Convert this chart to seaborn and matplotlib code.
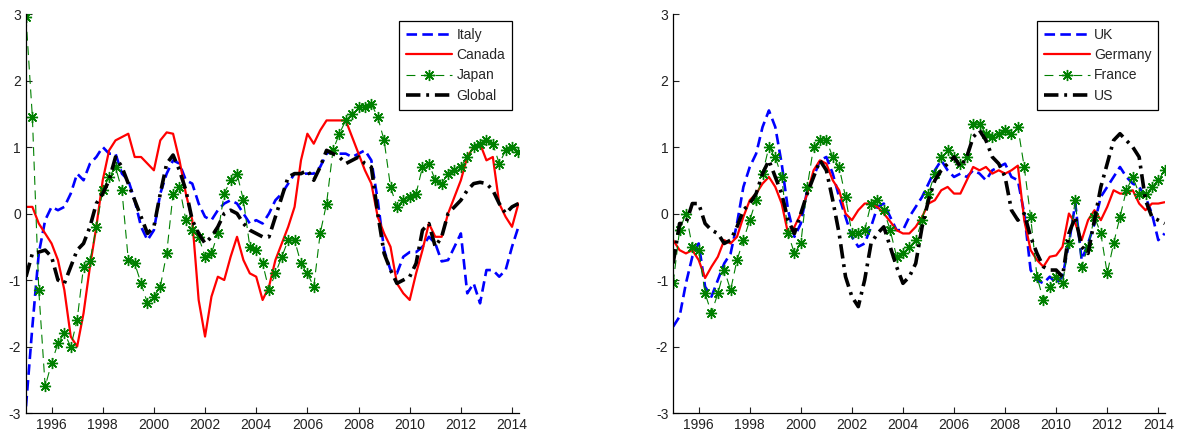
import numpy as np
import pandas as pd
import matplotlib
matplotlib.use("Agg")
import matplotlib.pyplot as plt
import seaborn as sns

# quarterly grid, 1995 Q1 .. 2014 Q2
years = np.arange(1995.0, 2014.3, 0.25)

italy = [-2.9, -1.7, -0.6, -0.1,
         0.1, 0.05, 0.1, 0.3,
         0.6, 0.5, 0.75, 0.85,
         1.0, 0.9, 0.9, 0.6,
         0.5, 0.2, -0.2, -0.4,
         -0.25, 0.3, 0.6, 0.8,
         0.75, 0.5, 0.45, 0.15,
         -0.05, -0.1, 0.05, 0.15,
         0.2, 0.15, 0.0, -0.15,
         -0.1, -0.15, 0.0, 0.2,
         0.3, 0.45, 0.6, 0.6,
         0.6, 0.6, 0.7, 0.9,
         0.95, 0.9, 0.9, 0.85,
         0.9, 0.95, 0.8, 0.2,
         -0.55, -0.85, -0.9, -0.65,
         -0.58, -0.58, -0.5, -0.35,
         -0.45, -0.72, -0.7, -0.5,
         -0.3, -1.2, -1.05, -1.35,
         -0.85, -0.85, -0.95, -0.85,
         -0.5, -0.2]
canada = [0.1, 0.1, -0.15, -0.3,
          -0.45, -0.7, -1.15, -1.85,
          -2.0, -1.5, -0.8, -0.2,
          0.5, 0.95, 1.1, 1.15,
          1.2, 0.85, 0.85, 0.75,
          0.65, 1.1, 1.22, 1.2,
          0.8, 0.3, -0.1, -1.3,
          -1.85, -1.25, -0.95, -1.0,
          -0.65, -0.35, -0.7, -0.9,
          -0.95, -1.3, -1.1, -0.7,
          -0.45, -0.2, 0.1, 0.8,
          1.2, 1.05, 1.25, 1.4,
          1.4, 1.4, 1.4, 1.15,
          0.9, 0.65, 0.45, -0.05,
          -0.3, -0.5, -1.05, -1.2,
          -1.3, -0.9, -0.55, -0.15,
          -0.35, -0.35, 0.0, 0.25,
          0.5, 0.85, 1.0, 1.05,
          0.8, 0.85, 0.15, -0.05,
          -0.2, 0.15]
japan = [2.95, 1.45, -1.15, -2.6,
         -2.25, -1.95, -1.8, -2.0,
         -1.6, -0.8, -0.72, -0.2,
         0.35, 0.55, 0.7, 0.35,
         -0.7, -0.75, -1.05, -1.35,
         -1.25, -1.1, -0.6, 0.3,
         0.4, -0.1, -0.25, -0.35,
         -0.65, -0.6, -0.3, 0.3,
         0.5, 0.6, 0.2, -0.5,
         -0.55, -0.75, -1.15, -0.9,
         -0.65, -0.4, -0.4, -0.75,
         -0.9, -1.1, -0.3, 0.15,
         0.95, 1.2, 1.4, 1.5,
         1.6, 1.6, 1.65, 1.45,
         1.1, 0.4, 0.1, 0.2,
         0.25, 0.3, 0.7, 0.75,
         0.5, 0.45, 0.6, 0.65,
         0.7, 0.85, 1.0, 1.05,
         1.1, 1.05, 0.75, 0.95,
         1.0, 0.93]
global_ = [-0.95, -0.6, -0.58, -0.55,
           -0.65, -1.0, -1.05, -0.8,
           -0.55, -0.45, -0.2, 0.15,
           0.3, 0.5, 0.85, 0.7,
           0.45, 0.2, -0.05, -0.3,
           -0.2, 0.3, 0.75, 0.88,
           0.65, 0.35, -0.1, -0.3,
           -0.45, -0.35, -0.2, 0.0,
           0.05, 0.0, -0.15, -0.25,
           -0.3, -0.35, -0.35, -0.05,
           0.25, 0.55, 0.6, 0.6,
           0.65, 0.5, 0.7, 0.95,
           0.9, 0.85, 0.75, 0.8,
           0.85, 0.75, 0.7, 0.0,
           -0.6, -0.85, -1.05, -1.0,
           -0.95, -0.75, -0.25, -0.15,
           -0.5, -0.35, 0.0, 0.1,
           0.2, 0.35, 0.45, 0.47,
           0.45, 0.35, 0.15, 0.0,
           0.1, 0.15]

uk = [-1.7, -1.55, -1.05, -0.65,
      -0.45, -1.1, -1.25, -1.0,
      -0.75, -0.6, -0.15, 0.4,
      0.7, 0.9, 1.3, 1.55,
      1.3, 0.75, 0.05, -0.35,
      -0.15, 0.35, 0.55, 0.8,
      0.85, 0.6, 0.25, -0.05,
      -0.35, -0.5, -0.45, -0.2,
      0.1, 0.15, -0.05, -0.25,
      -0.25, -0.05, 0.1, 0.25,
      0.45, 0.65, 0.8, 0.65,
      0.55, 0.6, 0.55, 0.65,
      0.6, 0.5, 0.65, 0.7,
      0.75, 0.55, 0.5, 0.0,
      -0.85, -1.0, -1.05, -0.95,
      -1.05, -0.95, -0.45, 0.15,
      -0.7, -0.45, -0.15, 0.25,
      0.4, 0.55, 0.7, 0.55,
      0.45, 0.4, 0.25, 0.0,
      -0.4, -0.3]
germany = [-0.4, -0.55, -0.6, -0.55,
           -0.7, -0.97, -0.8, -0.65,
           -0.4, -0.45, -0.35, -0.05,
           0.2, 0.3, 0.45, 0.55,
           0.4, 0.15, -0.3, -0.2,
           0.0, 0.3, 0.65, 0.8,
           0.75, 0.5, 0.35, 0.0,
           -0.1, 0.05, 0.15, 0.15,
           0.1, 0.0, -0.12, -0.25,
           -0.3, -0.3, -0.2, -0.05,
           0.15, 0.2, 0.35, 0.4,
           0.3, 0.3, 0.5, 0.7,
           0.65, 0.7, 0.6, 0.65,
           0.6, 0.65, 0.72, -0.1,
           -0.55, -0.7, -0.8, -0.65,
           -0.63, -0.5, 0.0, -0.15,
           -0.4, -0.1, 0.05, -0.1,
           0.1, 0.35, 0.3, 0.3,
           0.35, 0.15, 0.05, 0.15,
           0.15, 0.17]
france = [-1.05, -0.25, 0.0, -0.5,
          -0.55, -1.2, -1.5, -1.2,
          -0.85, -1.15, -0.7, -0.4,
          -0.1, 0.2, 0.6, 1.0,
          0.85, 0.55, -0.3, -0.6,
          -0.45, 0.4, 1.0, 1.1,
          1.1, 0.85, 0.7, 0.25,
          -0.3, -0.3, -0.25, 0.15,
          0.2, 0.05, -0.25, -0.65,
          -0.6, -0.5, -0.4, -0.1,
          0.3, 0.6, 0.85, 0.95,
          0.85, 0.75, 0.85, 1.35,
          1.35, 1.2, 1.15, 1.2,
          1.25, 1.2, 1.3, 0.7,
          -0.05, -0.95, -1.3, -1.1,
          -0.95, -1.05, -0.45, 0.2,
          -0.8, -0.5, -0.05, -0.3,
          -0.9, -0.45, -0.05, 0.35,
          0.55, 0.3, 0.3, 0.4,
          0.5, 0.65]
us = [-0.75, -0.15, -0.15, 0.15,
      0.15, -0.15, -0.25, -0.3,
      -0.45, -0.4, -0.2, 0.05,
      0.15, 0.3, 0.6, 0.8,
      0.55, 0.3, -0.1, -0.3,
      0.0, 0.3, 0.55, 0.8,
      0.65, 0.2, -0.3, -0.95,
      -1.25, -1.4, -1.0, -0.45,
      -0.3, -0.2, -0.5, -0.8,
      -1.05, -0.95, -0.75, -0.2,
      0.2, 0.5, 0.65, 0.75,
      0.85, 0.7, 0.85, 1.15,
      1.25, 1.1, 0.85, 0.75,
      0.55, 0.05, -0.1, 0.0,
      -0.35, -0.6, -0.8, -0.85,
      -0.85, -0.95, -0.3, -0.05,
      -0.5, -0.6, -0.1, 0.4,
      0.75, 1.1, 1.2, 1.1,
      1.0, 0.85, 0.2, -0.05,
      -0.1, -0.15]

left_names = ["Italy", "Canada", "Japan", "Global"]
right_names = ["UK", "Germany", "France", "US"]

sns.set_style("ticks")
plt.rcParams["font.family"] = ["Liberation Sans", "DejaVu Sans"]
plt.rcParams["axes.unicode_minus"] = False
plt.rcParams["xtick.direction"] = "in"
plt.rcParams["ytick.direction"] = "in"

green = (0.0, 0.5, 0.0)
styles = [
    dict(color="blue", lw=1.9, linestyle=(0, (4, 2))),
    dict(color="red", lw=1.6, linestyle="-"),
    dict(color=green, lw=0.8, linestyle=(0, (8, 5)), marker=(8, 2, 0),
         markersize=8, markeredgewidth=1.0, markeredgecolor=green),
    dict(color="black", lw=2.6, linestyle=(0, (4, 1.6, 0.8, 1.6))),
]

fig = plt.figure(figsize=(11.81, 4.38), dpi=100)
ax1 = fig.add_axes([0.022, 0.057, 0.4174, 0.911])
ax2 = fig.add_axes([0.570, 0.057, 0.4166, 0.911])

for ax, names, series in [(ax1, left_names, [italy, canada, japan, global_]),
                          (ax2, right_names, [uk, germany, france, us])]:
    for name, vals, st in zip(names, series, styles):
        df = pd.DataFrame({"year": years, "value": vals})
        sns.lineplot(data=df, x="year", y="value", ax=ax, label=name, **st)
    ax.set_xlim(1995.0, 2014.27)
    ax.set_ylim(-3, 3)
    ax.set_xticks(range(1996, 2015, 2))
    ax.set_yticks(range(-3, 4))
    ax.set_xlabel("")
    ax.set_ylabel("")
    ax.tick_params(labelsize=10, length=4, width=0.8, colors="#222222")
    for s in ["left", "bottom"]:
        ax.spines[s].set_linewidth(0.9)
        ax.spines[s].set_color("black")
    sns.despine(ax=ax)
    leg = ax.legend(loc="upper right", fontsize=10, frameon=True, fancybox=False,
                    framealpha=1, edgecolor="black", handlelength=3.3,
                    labelspacing=0.45, borderaxespad=0.5, handletextpad=0.3,
                    borderpad=0.5)
    leg.get_frame().set_linewidth(0.9)

fig.savefig("out.png", dpi=100)
